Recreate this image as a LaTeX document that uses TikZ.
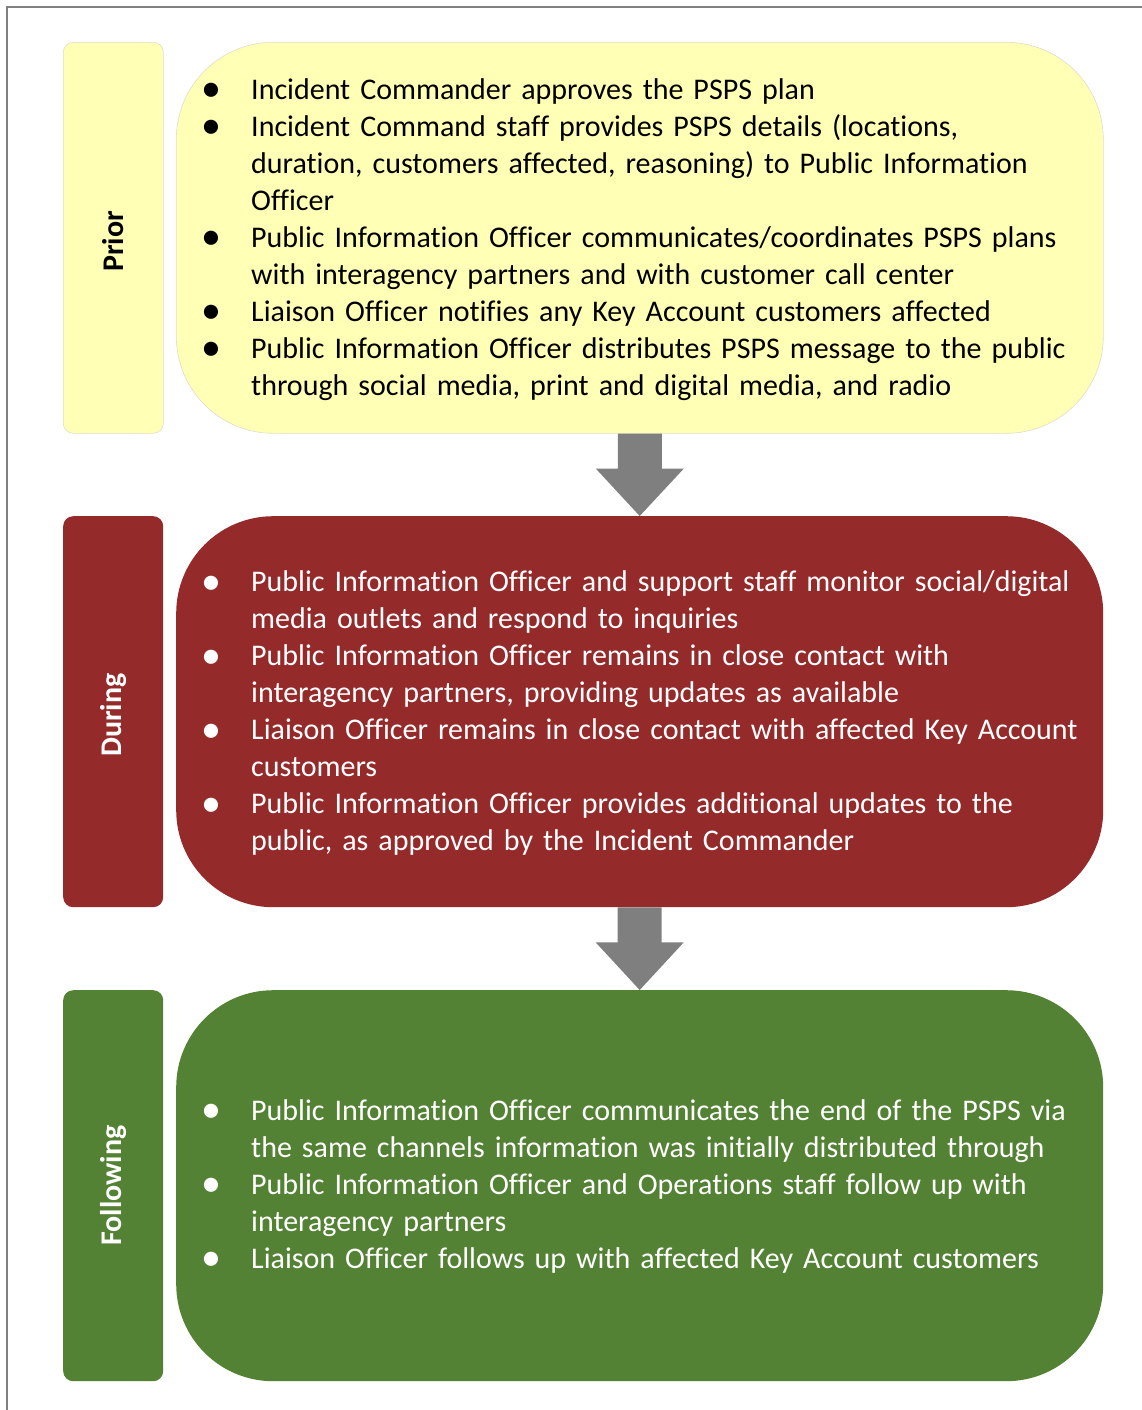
\documentclass[tikz,border=0pt]{standalone}
\usepackage{fontspec}
\setmainfont{Carlito}[Ligatures={NoCommon}]
\usetikzlibrary{calc}
\definecolor{priorfill}{HTML}{FFFFB5}
\definecolor{duringfill}{HTML}{952A2B}
\definecolor{followfill}{HTML}{548235}
\definecolor{framegray}{HTML}{808080}
\definecolor{arrowgray}{HTML}{7F7F7F}
\definecolor{softedge}{HTML}{DDDDCC}

% one bulleted entry with a hanging indent; lines are broken by hand with \newline
\newcommand\pitem[1]{\par\hangindent=47pt\hangafter=1\noindent
  \makebox[47pt][l]{\hspace{-3pt}\raisebox{-2.5pt}{\fontsize{40}{40}\selectfont\textbullet}}#1\par}

\begin{document}
\begin{tikzpicture}[x=1pt,y=-1pt,
  phase/.style={rounded corners=97pt, minimum width=927pt, minimum height=391pt, inner sep=0pt, anchor=north west},
  tag/.style={rounded corners=10pt, minimum width=100pt, minimum height=391pt, inner sep=0pt, anchor=north west},
  tagtext/.style={rotate=90, inner sep=0pt, font=\bfseries\fontsize{30}{37}\selectfont},
  steps/.style={anchor=west, text width=900pt, inner sep=0pt, font=\fontsize{30}{37}\selectfont\raggedright},
  flow/.style={fill=arrowgray}]

\useasboundingbox (0,0) rectangle (1141,1410);

% page frame
\draw[framegray, line width=2.2pt] (7,1412) -- (7,7) -- (1143,7);

% phase tags
\node[tag, fill=priorfill, draw=softedge, line width=0.6pt] (prior-tag) at (63,42) {};
\node[tag, fill=duringfill] (during-tag) at (63,516) {};
\node[tag, fill=followfill] (follow-tag) at (63,990) {};

\node[tagtext, text=black] (prior-lbl) at ([yshift=-3.5pt]prior-tag.center) {Prior};
\node[tagtext, text=white] (during-lbl) at ([yshift=-3.5pt]during-tag.center) {During};
\node[tagtext, text=white] (follow-lbl) at (follow-tag.center) {Following};

% phase boxes
\node[phase, fill=priorfill, draw=softedge, line width=0.6pt] (prior) at (176,42) {};
\node[phase, fill=duringfill] (during) at (176,516) {};
\node[phase, fill=followfill] (follow) at (176,990) {};

% flow arrows between phases
\fill[flow] ($(prior.south)+(-22,0)$) -- ($(prior.south)+(22,0)$) -- ($(prior.south)+(22,35)$)
  -- ($(prior.south)+(44,35)$) -- (during.north) -- ($(prior.south)+(-44,35)$)
  -- ($(prior.south)+(-22,35)$) -- cycle;
\fill[flow] ($(during.south)+(-22,0)$) -- ($(during.south)+(22,0)$) -- ($(during.south)+(22,35)$)
  -- ($(during.south)+(44,35)$) -- (follow.north) -- ($(during.south)+(-44,35)$)
  -- ($(during.south)+(-22,35)$) -- cycle;

% phase contents
\node[steps, text=black] (prior-list) at (204,231.5) {%
\pitem{Incident Commander approves the PSPS plan}
\pitem{Incident Command staff provides PSPS details (locations,\newline duration, customers affected, reasoning) to Public Information\newline Officer}
\pitem{Public Information Officer communicates/coordinates PSPS plans\newline with interagency partners and with customer call center}
\pitem{Liaison Officer notifies any Key Account customers affected}
\pitem{Public Information Officer distributes PSPS message to the public\newline through social media, print and digital media, and radio}};

\node[steps, text=white] (during-list) at (204,705) {%
\pitem{Public Information Officer and support staff monitor social/digital\newline media outlets and respond to inquiries}
\pitem{Public Information Officer remains in close contact with\newline interagency partners, providing updates as available}
\pitem{Liaison Officer remains in close contact with affected Key Account\newline customers}
\pitem{Public Information Officer provides additional updates to the\newline public, as approved by the Incident Commander}};

\node[steps, text=white] (follow-list) at (204,1178) {%
\pitem{Public Information Officer communicates the end of the PSPS via\newline the same channels information was initially distributed through}
\pitem{Public Information Officer and Operations staff follow up with\newline interagency partners}
\pitem{Liaison Officer follows up with affected Key Account customers}};

\end{tikzpicture}
\end{document}
